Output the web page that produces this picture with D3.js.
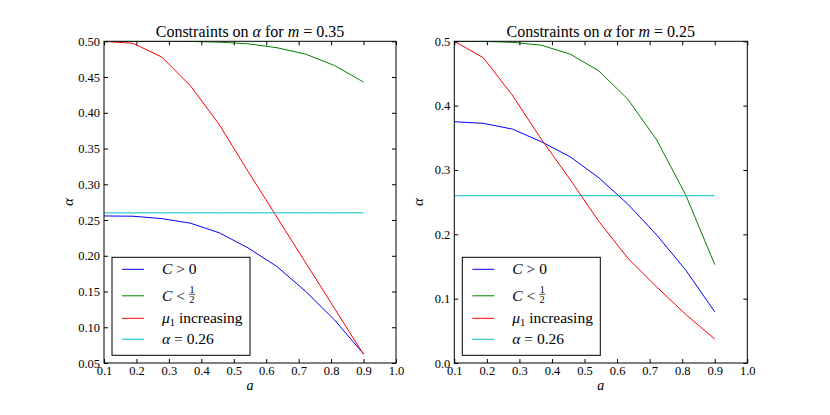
<!DOCTYPE html>
<html>
<head>
<meta charset="utf-8">
<script src="https://cdn.jsdelivr.net/npm/d3@7"></script>
<style>
	body { margin: 0; background: #fff; }
	svg text { font-family: "Liberation Serif", "Times New Roman", "DejaVu Serif", serif; fill: #000; }
	.tick line { stroke: #000; }
	.domain { stroke: none; }
</style>
</head>
<body>
<div id="chart"></div>
<script>
// a = linspace(0.1, 0.9, 10)
var aValues = [0.1, 0.189, 0.278, 0.367, 0.456, 0.544, 0.633, 0.722, 0.811, 0.9]

// m = 0.35
var leftPositive = [0.2557, 0.2553, 0.2520, 0.2455, 0.2320, 0.2110, 0.1850, 0.1500, 0.1100, 0.0627]
var leftHalf     = [0.5000, 0.5000, 0.4999, 0.4998, 0.4988, 0.4965, 0.4910, 0.4820, 0.4660, 0.4430]
var leftMu       = [0.5000, 0.4972, 0.4780, 0.4375, 0.3830, 0.3180, 0.2540, 0.1900, 0.1260, 0.0620]

// m = 0.25
var rightPositive = [0.3750, 0.3725, 0.3636, 0.3440, 0.3205, 0.2878, 0.2470, 0.1988, 0.1443, 0.0795]
var rightHalf     = [0.5000, 0.4998, 0.4984, 0.4940, 0.4800, 0.4540, 0.4100, 0.3465, 0.2610, 0.1530]
var rightMu       = [0.5000, 0.4745, 0.4165, 0.3480, 0.2850, 0.2200, 0.1630, 0.1180, 0.0755, 0.0373]

var ALPHA_LINE = 0.26

var xTicks = [0.1, 0.2, 0.3, 0.4, 0.5, 0.6, 0.7, 0.8, 0.9, 1.0]
var leftYTicks = [0.05, 0.10, 0.15, 0.20, 0.25, 0.30, 0.35, 0.40, 0.45, 0.50]
var rightYTicks = [0.0, 0.1, 0.2, 0.3, 0.4, 0.5]

var seriesColors = ["#0000ff", "#008000", "#ff0000", "#00bfbf"]

var WIDTH = 830, HEIGHT = 415
var TOP = 41.3, BOTTOM = 363
var TICK = 4
var SERIF = "'Liberation Serif', 'Times New Roman', serif"

var svg = d3.select("#chart").append("svg")
	.attr("width", WIDTH)
	.attr("height", HEIGHT)

function buildPanel(opt){
	var x = d3.scaleLinear().domain([0.1, 1.0]).range([opt.left, opt.right])
	var y = d3.scaleLinear().domain(opt.yDomain).range([BOTTOM, TOP])

	var g = svg.append("g")

	var series = [opt.positive, opt.half, opt.mu, aValues.map(function(){ return ALPHA_LINE })]

	var line = d3.line()
		.x(function(d, i){ return x(aValues[i]) })
		.y(function(d){ return y(d) })

	// clip so lines hugging 0.5 stay inside the frame
	var clipId = "clip" + opt.key
	svg.append("clipPath").attr("id", clipId)
		.append("rect")
		.attr("x", opt.left).attr("y", TOP)
		.attr("width", opt.right - opt.left).attr("height", BOTTOM - TOP)

	var lines = g.append("g").attr("clip-path", "url(#" + clipId + ")")
	lines.selectAll("path")
		.data(series)
		.enter()
		.append("path")
		.attr("d", line)
		.attr("fill", "none")
		.attr("stroke", function(d, i){ return seriesColors[i] })
		.attr("stroke-width", 1)

	// axes, ticks pointing inward on all four sides
	g.append("g")
		.attr("transform", "translate(0," + BOTTOM + ")")
		.call(d3.axisBottom(x).tickValues(xTicks).tickSizeInner(-TICK).tickSizeOuter(0).tickPadding(3.5)
			.tickFormat(d3.format(".1f")))
	g.append("g")
		.attr("transform", "translate(0," + TOP + ")")
		.call(d3.axisTop(x).tickValues(xTicks).tickSizeInner(-TICK).tickSizeOuter(0).tickFormat(""))
	g.append("g")
		.attr("transform", "translate(" + opt.left + ",0)")
		.call(d3.axisLeft(y).tickValues(opt.yTicks).tickSizeInner(-TICK).tickSizeOuter(0).tickPadding(4)
			.tickFormat(d3.format(opt.yFormat)))
	g.append("g")
		.attr("transform", "translate(" + opt.right + ",0)")
		.call(d3.axisRight(y).tickValues(opt.yTicks).tickSizeInner(-TICK).tickSizeOuter(0).tickFormat(""))

	g.selectAll(".tick text")
		.attr("font-family", SERIF)
		.style("font-family", SERIF)
		.style("font-size", "12.5px")
		.attr("fill", "#000")

	g.append("rect")
		.attr("x", opt.left).attr("y", TOP)
		.attr("width", opt.right - opt.left).attr("height", BOTTOM - TOP)
		.attr("fill", "none")
		.attr("stroke", "#000")
		.attr("stroke-width", 1)

	// title
	var title = g.append("text")
		.attr("x", (opt.left + opt.right) / 2)
		.attr("y", TOP - 4)
		.attr("text-anchor", "middle")
		.style("font-size", "16px")
	title.append("tspan").text("Constraints on ")
	title.append("tspan").attr("font-style", "italic").text("α")
	title.append("tspan").text(" for ")
	title.append("tspan").attr("font-style", "italic").text("m")
	title.append("tspan").text(" = " + opt.m)

	// axis labels
	g.append("text")
		.attr("x", (opt.left + opt.right) / 2)
		.attr("y", 390)
		.attr("text-anchor", "middle")
		.attr("font-style", "italic")
		.style("font-size", "14px")
		.text("a")

	g.append("text")
		.attr("transform", "translate(" + (opt.left - 31) + "," + ((TOP + BOTTOM) / 2) + ") rotate(-90)")
		.attr("text-anchor", "middle")
		.attr("font-style", "italic")
		.style("font-size", "15px")
		.text("α")

	buildLegend(g, opt.left + 8, 257.3)
}

function buildLegend(g, lx, ly){
	var rowY = [12, 38.5, 61, 82]
	var legend = g.append("g").attr("transform", "translate(" + lx + "," + ly + ")")

	legend.append("rect")
		.attr("width", 138)
		.attr("height", 98)
		.attr("fill", "#fff")
		.attr("stroke", "#000")
		.attr("stroke-width", 1)

	legend.selectAll("line")
		.data(seriesColors)
		.enter()
		.append("line")
		.attr("x1", 10)
		.attr("x2", 32)
		.attr("y1", function(d, i){ return rowY[i] })
		.attr("y2", function(d, i){ return rowY[i] })
		.attr("stroke", function(d){ return d })
		.attr("stroke-width", 1)

	var fs = "15.5px"
	var tx = 50

	var t0 = legend.append("text").attr("x", tx).attr("y", rowY[0] + 5).style("font-size", fs)
	t0.append("tspan").attr("font-style", "italic").text("C")
	t0.append("tspan").text(" > 0")

	var t1 = legend.append("text").attr("x", tx).attr("y", rowY[1] + 5).style("font-size", fs)
	t1.append("tspan").attr("font-style", "italic").text("C")
	t1.append("tspan").text(" <")
	var fx = tx + 30
	legend.append("text").attr("x", fx).attr("y", rowY[1] - 3).attr("text-anchor", "middle")
		.style("font-size", "10px").text("1")
	legend.append("line")
		.attr("x1", fx - 3).attr("x2", fx + 3)
		.attr("y1", rowY[1] - 1.5).attr("y2", rowY[1] - 1.5)
		.attr("stroke", "#000").attr("stroke-width", 0.7)
	legend.append("text").attr("x", fx).attr("y", rowY[1] + 7).attr("text-anchor", "middle")
		.style("font-size", "10px").text("2")

	var t2 = legend.append("text").attr("x", tx).attr("y", rowY[2] + 5).style("font-size", fs)
	t2.append("tspan").attr("font-style", "italic").text("μ")
	t2.append("tspan").attr("dy", 3).style("font-size", "10.5px").text("1")
	t2.append("tspan").attr("dy", -3).text(" increasing")

	var t3 = legend.append("text").attr("x", tx).attr("y", rowY[3] + 5).style("font-size", fs)
	t3.append("tspan").attr("font-style", "italic").text("α")
	t3.append("tspan").text(" = 0.26")
}

buildPanel({
	key: "left", left: 104, right: 396, m: "0.35",
	yDomain: [0.05, 0.5], yTicks: leftYTicks, yFormat: ".2f",
	positive: leftPositive, half: leftHalf, mu: leftMu
})

buildPanel({
	key: "right", left: 454.3, right: 747.3, m: "0.25",
	yDomain: [0.0, 0.5], yTicks: rightYTicks, yFormat: ".1f",
	positive: rightPositive, half: rightHalf, mu: rightMu
})
</script>
</body>
</html>
